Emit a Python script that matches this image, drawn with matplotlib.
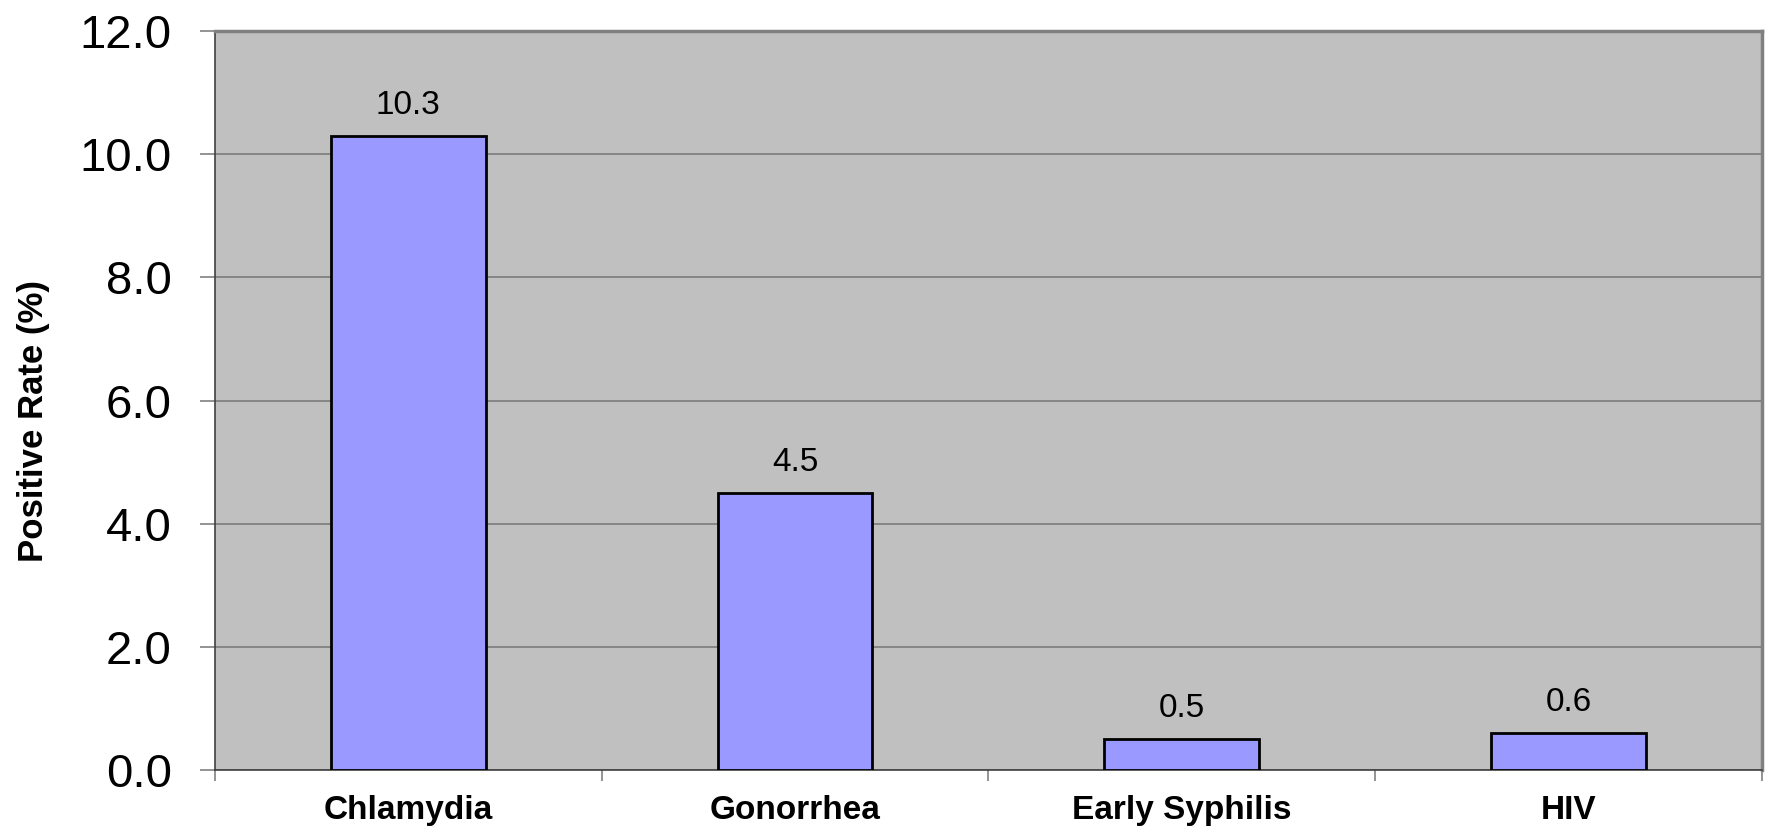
import matplotlib.pyplot as plt

categories = ["Chlamydia", "Gonorrhea", "Early Syphilis", "HIV"]
rates = [10.3, 4.5, 0.5, 0.6]
y_ticks = [0.0, 2.0, 4.0, 6.0, 8.0, 10.0, 12.0]

plt.rcParams['font.family'] = ['Liberation Sans', 'DejaVu Sans']

fig = plt.figure(figsize=(17.69, 8.32), dpi=100)
ax = fig.add_axes([0.1215, 0.0745, 0.8745, 0.888])
ax.set_facecolor("#C0C0C0")

x = list(range(len(categories)))
bars = ax.bar(x, rates, width=0.4, color="#9999FF", edgecolor="black", linewidth=2, zorder=3)

for xi, v in zip(x, rates):
    ax.annotate(f"{v:.1f}", (xi, v), xytext=(0, 11), textcoords="offset points",
                ha="center", va="bottom", fontsize=24)

ax.set_ylim(0, 12)
ax.set_yticks(y_ticks)
ax.set_yticklabels([f"{t:.1f}" for t in y_ticks], fontsize=34)
ax.yaxis.grid(True, color="#808080", linewidth=1.3, zorder=0)
ax.tick_params(axis="y", length=11, width=1.2, color="#808080", pad=20)

ax.set_xlim(-0.5, len(categories) - 0.5)
ax.set_xticks([i - 0.5 for i in range(len(categories) + 1)])
ax.set_xticklabels([])
ax.set_xticks(x, minor=True)
ax.set_xticklabels(categories, minor=True, fontsize=24, fontweight="bold")
ax.tick_params(axis="x", which="major", length=8, width=1.2, color="#808080")
ax.tick_params(axis="x", which="minor", length=0, pad=18)

ax.set_ylabel("Positive Rate (%)", fontsize=25, fontweight="bold", labelpad=21)
ax.yaxis.label.set_y(0.472)

ax.spines["left"].set_color("#404040")
ax.spines["left"].set_linewidth(1.2)
ax.spines["bottom"].set_color("#404040")
ax.spines["bottom"].set_linewidth(1.2)
ax.spines["top"].set_color("#808080")
ax.spines["top"].set_linewidth(2.5)
ax.spines["right"].set_color("#808080")
ax.spines["right"].set_linewidth(2.5)

fig.savefig("out.png", dpi=100)
